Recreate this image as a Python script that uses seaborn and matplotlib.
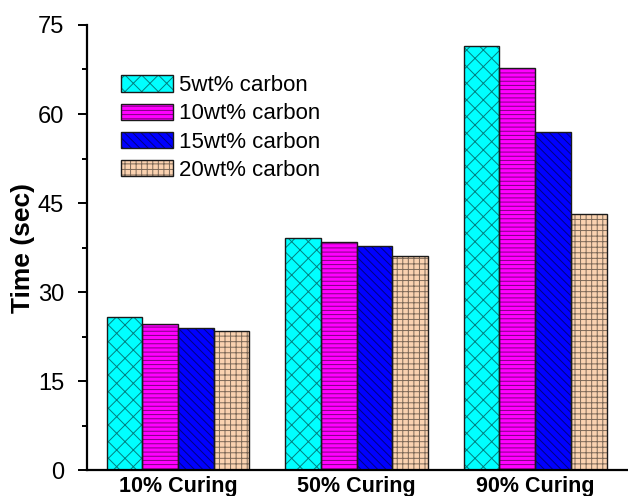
import matplotlib
matplotlib.use("Agg")
import matplotlib.pyplot as plt
from matplotlib.patches import Patch, Rectangle
from matplotlib.ticker import MultipleLocator
import seaborn as sns
import pandas as pd

# Curing stages on the x axis
stages = ["10% Curing", "50% Curing", "90% Curing"]

# Time (sec) to reach each curing stage, one list per carbon loading
carbon_5 = [25.8, 39.1, 71.5]
carbon_10 = [24.6, 38.4, 67.8]
carbon_15 = [23.9, 37.8, 57.0]
carbon_20 = [23.4, 36.1, 43.2]

series_labels = ["5wt% carbon", "10wt% carbon", "15wt% carbon", "20wt% carbon"]
series_colors = ["#00FFFF", "#FF00FF", "#0000FF", "#FAD2B0"]
series_hatches = ["xx", "----", "\\\\\\\\", "+++"]
hatch_ink = (0.0, 0.0, 0.0, 0.5)
outline_ink = "#1a1a1a"

df = pd.DataFrame({
    "stage": stages * 4,
    "time": carbon_5 + carbon_10 + carbon_15 + carbon_20,
    "series": [s for s in series_labels for _ in stages],
})

sns.set_theme(style="ticks")
plt.rcParams["font.family"] = ["Liberation Sans", "DejaVu Sans"]
plt.rcParams["hatch.linewidth"] = 0.7
plt.rcParams["text.color"] = "black"
plt.rcParams["axes.labelcolor"] = "black"
plt.rcParams["xtick.color"] = "black"
plt.rcParams["ytick.color"] = "black"

fig = plt.figure(figsize=(6.28, 4.96), dpi=100)
ax = fig.add_axes([0.1385, 0.0524, 0.8615, 0.8972])

sns.barplot(
    data=df, x="stage", y="time", hue="series",
    hue_order=series_labels, palette=series_colors,
    saturation=1, width=0.8, gap=0, legend=False,
    edgecolor=hatch_ink, linewidth=0.0, ax=ax,
)

# hatch in a soft ink, then a crisp dark outline on top of every bar
for container, hatch in zip(ax.containers, series_hatches):
    for bar in container:
        bar.set_hatch(hatch)
        ax.add_patch(Rectangle(
            (bar.get_x(), bar.get_y()), bar.get_width(), bar.get_height(),
            fill=False, edgecolor=outline_ink, linewidth=1.0, zorder=bar.get_zorder() + 0.1,
        ))

ax.set_xlim(-0.51, 2.52)
ax.set_ylim(0, 75)
ax.yaxis.set_major_locator(MultipleLocator(15))
ax.yaxis.set_minor_locator(MultipleLocator(7.5))

for side in ["top", "right"]:
    ax.spines[side].set_visible(False)
for side in ["left", "bottom"]:
    ax.spines[side].set_linewidth(1.6)
    ax.spines[side].set_color("black")
    ax.spines[side].set_zorder(5)

ax.tick_params(axis="y", which="major", length=6.5, width=1.4, pad=10,
               labelsize=17, color="black", labelcolor="black", direction="out")
ax.tick_params(axis="y", which="minor", length=3.8, width=1.4, color="black",
               direction="out")
ax.tick_params(axis="x", length=0, pad=4, labelsize=15.5, labelcolor="black")
for lbl in ax.get_xticklabels():
    lbl.set_fontweight("bold")

ax.set_xlabel("")
ax.set_ylabel("Time (sec)", fontsize=19, fontweight="bold", labelpad=2, color="black")

handles = []
for c, h in zip(series_colors, series_hatches):
    handles.append(Patch(facecolor=c, edgecolor=hatch_ink, hatch=h, linewidth=0))
legend_outline = [Patch(facecolor="none", edgecolor=outline_ink, linewidth=1.0)
                  for _ in series_labels]
leg = ax.legend(
    [(h, o) for h, o in zip(handles, legend_outline)], series_labels,
    loc="upper left", bbox_to_anchor=(0.062, 0.887),
    frameon=False, fontsize=16, handlelength=2.35, handleheight=0.75,
    handletextpad=0.3, labelspacing=0.32, borderpad=0, borderaxespad=0,
)
for t in leg.get_texts():
    t.set_color("black")

fig.savefig("out.png", dpi=100)
